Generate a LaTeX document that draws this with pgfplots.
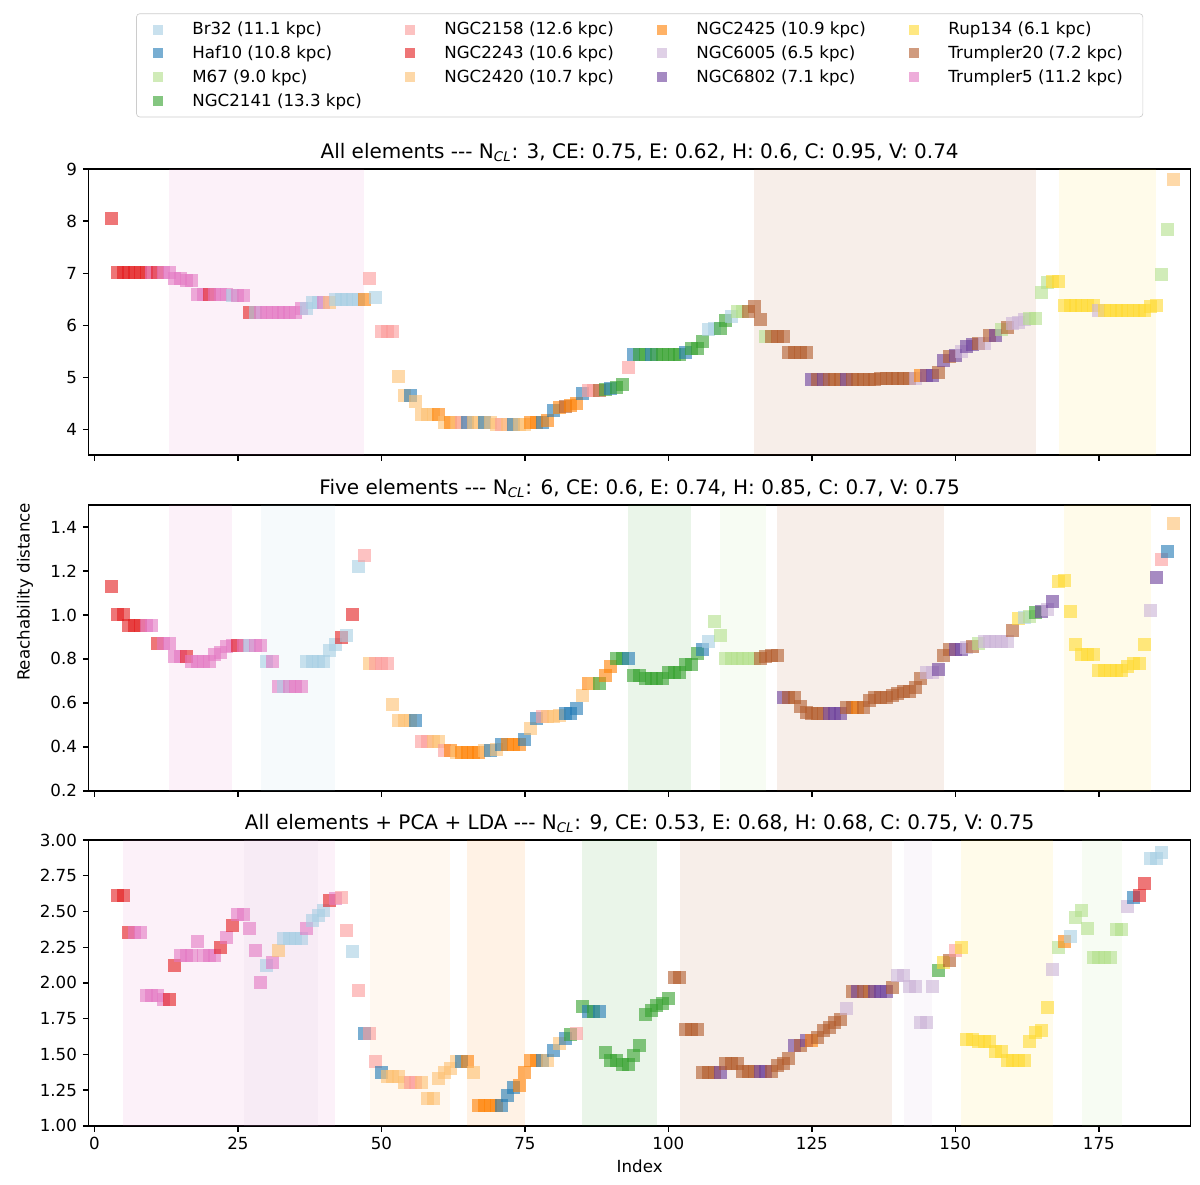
\documentclass[border=0pt]{standalone}
\usepackage{pgfplots}
\usepackage{pgfplotstable}
\usepackage{fontspec}
\setmainfont{DejaVu Sans}
\pgfplotsset{compat=1.18}
\definecolor{cB}{HTML}{A6CEE3}
\definecolor{cH}{HTML}{1F78B4}
\definecolor{cM}{HTML}{B2DF8A}
\definecolor{cG}{HTML}{33A02C}
\definecolor{cP}{HTML}{FB9A99}
\definecolor{cR}{HTML}{E31A1C}
\definecolor{cL}{HTML}{FDBF6F}
\definecolor{cO}{HTML}{FF7F00}
\definecolor{cV}{HTML}{CAB2D6}
\definecolor{cD}{HTML}{6A3D9A}
\definecolor{cY}{HTML}{FFD92F}
\definecolor{cT}{HTML}{B15928}
\definecolor{cK}{HTML}{E377C2}

\pgfplotstableread{
x y c
3 8.06 R
4 7.02 R
5 7.02 R
6 7.02 R
7 7.02 R
8 7.02 R
9 7.02 R
10 7.02 K
11 7.02 R
12 7.02 K
13 7.02 K
14 6.91 K
15 6.91 K
16 6.86 K
17 6.86 K
18 6.60 K
19 6.60 K
20 6.60 R
21 6.60 K
22 6.60 K
23 6.60 K
24 6.58 B
25 6.58 K
26 6.58 K
27 6.25 R
28 6.25 B
29 6.25 K
30 6.25 K
31 6.25 K
32 6.25 K
33 6.25 K
34 6.25 K
35 6.25 K
36 6.32 K
37 6.32 B
38 6.44 B
39 6.44 B
40 6.44 K
41 6.44 L
42 6.50 B
43 6.50 B
44 6.50 B
45 6.50 B
46 6.50 B
47 6.50 O
48 6.91 P
49 6.54 B
50 5.89 P
51 5.89 P
52 5.89 P
53 5.02 L
54 4.66 L
55 4.66 H
56 4.55 L
57 4.29 L
58 4.29 L
59 4.29 L
60 4.29 O
61 4.14 L
62 4.14 O
63 4.14 L
64 4.14 P
65 4.14 H
66 4.14 L
67 4.14 L
68 4.14 H
69 4.14 L
70 4.11 L
71 4.11 P
72 4.11 L
73 4.11 H
74 4.11 L
75 4.11 L
76 4.14 O
77 4.14 O
78 4.14 H
79 4.17 O
80 4.37 H
81 4.43 O
82 4.44 T
83 4.47 O
84 4.50 O
85 4.69 H
86 4.75 P
87 4.75 P
88 4.76 T
89 4.78 G
90 4.80 H
91 4.82 G
92 4.87 G
93 5.20 P
94 5.45 H
95 5.45 G
96 5.45 G
97 5.45 H
98 5.45 G
99 5.45 G
100 5.45 G
101 5.45 G
102 5.45 G
103 5.49 H
104 5.55 G
105 5.55 G
106 5.70 G
107 5.92 B
108 5.94 B
109 5.94 G
110 6.09 G
111 6.17 B
112 6.26 M
113 6.26 M
114 6.26 T
115 6.36 T
116 6.12 T
117 5.78 M
118 5.78 T
119 5.78 T
120 5.78 T
121 5.48 T
122 5.48 T
123 5.48 T
124 5.48 T
125 4.97 D
126 4.97 T
127 4.97 D
128 4.97 T
129 4.97 T
130 4.97 T
131 4.97 D
132 4.97 T
133 4.97 T
134 4.97 T
135 4.97 T
136 4.97 T
137 4.98 T
138 4.98 T
139 4.98 T
140 4.98 T
141 4.98 T
142 4.98 T
143 4.98 V
144 5.04 O
145 5.04 D
146 5.04 D
147 5.09 T
148 5.33 D
149 5.40 T
150 5.43 D
151 5.51 V
152 5.60 D
153 5.64 D
154 5.65 T
155 5.65 V
156 5.81 T
157 5.81 D
158 5.92 M
159 5.97 T
160 6.04 V
161 6.05 V
162 6.12 V
163 6.14 M
164 6.14 M
165 6.63 M
166 6.83 M
167 6.84 Y
168 6.84 Y
169 6.39 Y
170 6.39 Y
171 6.39 Y
172 6.39 Y
173 6.39 Y
174 6.39 Y
175 6.28 V
176 6.28 Y
177 6.28 Y
178 6.28 Y
179 6.28 Y
180 6.28 Y
181 6.28 Y
182 6.28 Y
183 6.28 Y
184 6.37 Y
185 6.39 Y
186 6.97 M
187 7.84 M
188 8.79 L
}\tA

\pgfplotstableread{
x y c
3 1.13 R
4 1.00 R
5 1.00 R
6 0.95 R
7 0.95 R
8 0.95 R
9 0.95 K
10 0.95 K
11 0.87 R
12 0.87 K
13 0.87 K
14 0.81 K
15 0.81 K
16 0.81 R
17 0.786 K
18 0.786 K
19 0.786 K
20 0.786 K
21 0.82 K
22 0.83 K
23 0.855 K
24 0.86 K
25 0.86 R
26 0.86 K
27 0.86 B
28 0.86 K
29 0.86 K
30 0.786 B
31 0.786 K
32 0.673 K
33 0.673 B
34 0.673 K
35 0.673 K
36 0.673 K
37 0.786 B
38 0.786 B
39 0.79 B
40 0.79 B
41 0.84 B
42 0.867 B
43 0.897 R
44 0.905 B
45 1.00 R
46 1.22 B
47 1.27 P
48 0.78 L
49 0.78 P
50 0.78 P
51 0.78 P
52 0.594 L
53 0.52 L
54 0.52 L
55 0.52 L
56 0.52 H
57 0.423 P
58 0.423 P
59 0.423 L
60 0.423 L
61 0.385 P
62 0.385 O
63 0.375 L
64 0.375 O
65 0.375 O
66 0.375 O
67 0.375 O
68 0.385 L
69 0.385 H
70 0.387 L
71 0.41 H
72 0.41 O
73 0.41 O
74 0.41 O
75 0.433 H
76 0.482 L
77 0.53 H
78 0.537 P
79 0.537 L
80 0.54 L
81 0.543 L
82 0.55 H
83 0.55 H
84 0.575 H
85 0.635 L
86 0.688 O
87 0.688 L
88 0.688 G
89 0.726 O
90 0.764 O
91 0.80 G
92 0.80 G
93 0.80 H
94 0.726 G
95 0.726 G
96 0.71 G
97 0.71 G
98 0.71 G
99 0.71 G
100 0.736 G
101 0.736 G
102 0.736 G
103 0.776 G
104 0.776 G
105 0.824 G
106 0.842 H
107 0.88 B
108 0.968 M
109 0.908 M
110 0.80 M
111 0.80 M
112 0.80 M
113 0.80 M
114 0.80 M
115 0.80 M
116 0.80 T
117 0.81 T
118 0.817 T
119 0.817 T
120 0.624 D
121 0.624 T
122 0.624 T
123 0.585 T
124 0.555 T
125 0.552 T
126 0.552 T
127 0.552 T
128 0.552 D
129 0.552 D
130 0.552 D
131 0.579 T
132 0.579 T
133 0.579 O
134 0.579 T
135 0.612 T
136 0.624 T
137 0.624 T
138 0.624 T
139 0.632 T
140 0.642 T
141 0.65 T
142 0.65 T
143 0.67 T
144 0.71 T
145 0.736 V
146 0.736 V
147 0.752 D
148 0.817 T
149 0.844 T
150 0.844 D
151 0.844 D
152 0.85 V
153 0.855 T
154 0.87 M
155 0.88 V
156 0.88 V
157 0.88 V
158 0.88 V
159 0.88 V
160 0.93 T
161 0.983 Y
162 0.988 B
163 0.995 M
164 1.01 G
165 1.014 D
166 1.025 V
167 1.06 D
168 1.15 Y
169 1.155 Y
170 1.016 Y
171 0.865 Y
172 0.82 Y
173 0.82 Y
174 0.82 Y
175 0.749 Y
176 0.749 Y
177 0.749 Y
178 0.749 Y
179 0.749 Y
180 0.764 Y
181 0.779 Y
182 0.779 Y
183 0.865 Y
184 1.02 V
185 1.168 D
186 1.25 P
187 1.29 H
188 1.418 L
}\tB

\pgfplotstableread{
x y c
4 2.61 R
5 2.61 R
6 2.355 R
7 2.355 K
8 2.355 K
9 1.91 K
10 1.91 K
11 1.91 K
12 1.885 K
13 1.885 R
14 2.12 R
15 2.194 K
16 2.194 K
17 2.194 K
18 2.29 K
19 2.19 K
20 2.19 K
21 2.19 K
22 2.245 R
23 2.32 K
24 2.40 R
25 2.48 K
26 2.48 K
27 2.38 K
28 2.23 K
29 2.00 K
30 2.12 B
31 2.145 K
32 2.23 L
33 2.31 B
34 2.31 B
35 2.31 B
36 2.31 B
37 2.38 K
38 2.44 B
39 2.47 B
40 2.505 B
41 2.575 R
42 2.59 K
43 2.60 P
44 2.37 P
45 2.22 B
46 1.95 P
47 1.645 H
48 1.645 P
49 1.45 P
50 1.373 H
51 1.343 L
52 1.343 L
53 1.343 L
54 1.303 L
55 1.303 P
56 1.303 P
57 1.303 L
58 1.194 L
59 1.194 L
60 1.33 L
61 1.373 L
62 1.40 L
63 1.45 L
64 1.45 H
65 1.45 O
66 1.373 L
67 1.145 O
68 1.145 O
69 1.145 O
70 1.145 O
71 1.145 H
72 1.21 H
73 1.27 H
74 1.28 O
75 1.37 O
76 1.455 O
77 1.455 O
78 1.455 H
79 1.455 L
80 1.525 H
81 1.575 L
82 1.613 H
83 1.64 G
84 1.645 P
85 1.838 G
86 1.80 H
87 1.80 G
88 1.80 H
89 1.51 G
90 1.46 G
91 1.46 G
92 1.43 G
93 1.43 G
94 1.49 G
95 1.565 G
96 1.78 G
97 1.81 G
98 1.84 G
99 1.855 G
100 1.89 G
101 2.04 T
102 2.04 T
103 1.676 T
104 1.676 T
105 1.676 T
106 1.37 T
107 1.37 T
108 1.37 T
109 1.37 D
110 1.436 T
111 1.436 T
112 1.436 T
113 1.378 T
114 1.378 T
115 1.378 T
116 1.378 D
117 1.378 D
118 1.378 T
119 1.42 T
120 1.436 T
121 1.47 T
122 1.56 D
123 1.56 T
124 1.594 D
125 1.60 O
126 1.617 T
127 1.664 T
128 1.69 T
129 1.72 T
130 1.745 T
131 1.82 V
132 1.938 T
133 1.938 D
134 1.938 T
135 1.938 T
136 1.938 D
137 1.938 D
138 1.938 D
139 1.97 T
140 2.05 V
141 2.05 V
142 1.975 V
143 1.975 V
144 1.72 V
145 1.72 V
146 1.975 V
147 2.087 G
148 2.145 Y
149 2.16 T
150 2.226 P
151 2.245 Y
152 1.606 Y
153 1.606 Y
154 1.59 Y
155 1.59 Y
156 1.59 Y
157 1.52 Y
158 1.52 Y
159 1.455 Y
160 1.455 Y
161 1.455 Y
162 1.455 Y
163 1.59 Y
164 1.65 Y
165 1.67 Y
166 1.83 Y
167 2.094 V
168 2.25 M
169 2.287 O
170 2.325 B
171 2.455 M
172 2.51 M
173 2.38 M
174 2.18 M
175 2.18 M
176 2.18 M
177 2.18 M
178 2.373 M
179 2.373 M
180 2.536 V
181 2.60 H
182 2.61 R
183 2.695 R
184 2.87 B
185 2.87 B
186 2.91 B
}\tC

\tikzset{cls/.style={fill=#1, draw=#1, fill opacity=0.6, draw opacity=0, rounded corners=1.5pt}}
\pgfplotsset{
  limg/.style={only marks, mark=square*, mark size=3pt, mark options={fill=#1, draw=#1, fill opacity=0.6, draw opacity=0, rounded corners=1.2pt}},
  span/.style={fill=#1, fill opacity=0.1, draw=none, forget plot},
  panel/.style={
    scale only axis, width=661.2pt, height=171.5pt,
    anchor=north west,
    xmin=-1, xmax=191,
    xtick={0,25,...,175},
    tick pos=left, tick align=outside,
    major tick length=3.5pt,
    every tick/.style={black, line width=0.8pt},
    axis line style={line width=0.8pt},
    /pgf/number format/assume math mode=true,
    title style={font=\fontsize{12}{14}\selectfont, yshift=-5pt},
    tick label style={font=\fontsize{10}{12}\selectfont},
    label style={font=\fontsize{10}{12}\selectfont},
  },
  pts/.style={
    scatter, only marks, mark=square*, mark size=3.9pt,
    scatter src=explicit symbolic,
    scatter/classes={
      B={cls=cB}, H={cls=cH}, M={cls=cM}, G={cls=cG}, P={cls=cP},
      R={cls=cR}, L={cls=cL}, O={cls=cO}, V={cls=cV}, D={cls=cD},
      Y={cls=cY}, T={cls=cT}, K={cls=cK}},
    forget plot
  },
}

\begin{document}
\begin{tikzpicture}
\useasboundingbox (0,0) rectangle (720pt,-711pt);

% ---------- Panel 1 ----------
\begin{axis}[panel,
  at={(53.2pt,-101.4pt)},
  ymin=3.52, ymax=9, ytick={4,5,6,7,8,9},
  xticklabels={},
  title={All elements -{}-{}- N\textsubscript{\itshape CL}: 3, CE: 0.75, E: 0.62, H: 0.6, C: 0.95, V: 0.74},
  legend columns=4,
  legend cell align=left,
  legend style={at={(0.5,1)}, anchor=south, yshift=31pt,
    draw=black!20, rounded corners=2pt,
    font=\fontsize{10}{12}\selectfont,
    inner xsep=10pt, inner ysep=3pt,
    row sep=1.2pt,
    /tikz/every even column/.append style={column sep=24pt},
    /tikz/every odd column/.append style={column sep=15.5pt}},
]
\addplot[span=cK] coordinates {(13,3.52) (47,3.52) (47,9) (13,9)} -- cycle;
\addplot[span=cT] coordinates {(115,3.52) (164,3.52) (164,9) (115,9)} -- cycle;
\addplot[span=cY] coordinates {(168,3.52) (185,3.52) (185,9) (168,9)} -- cycle;
\addplot[pts] table[x=x, y=y, meta=c] {\tA};
\addlegendimage{limg=cB}\addlegendentry{Br32 (11.1 kpc)}
\addlegendimage{limg=cP}\addlegendentry{NGC2158 (12.6 kpc)}
\addlegendimage{limg=cO}\addlegendentry{NGC2425 (10.9 kpc)}
\addlegendimage{limg=cY}\addlegendentry{Rup134 (6.1 kpc)}
\addlegendimage{limg=cH}\addlegendentry{Haf10 (10.8 kpc)}
\addlegendimage{limg=cR}\addlegendentry{NGC2243 (10.6 kpc)}
\addlegendimage{limg=cV}\addlegendentry{NGC6005 (6.5 kpc)}
\addlegendimage{limg=cT}\addlegendentry{Trumpler20 (7.2 kpc)}
\addlegendimage{limg=cM}\addlegendentry{M67 (9.0 kpc)}
\addlegendimage{limg=cL}\addlegendentry{NGC2420 (10.7 kpc)}
\addlegendimage{limg=cD}\addlegendentry{NGC6802 (7.1 kpc)}
\addlegendimage{limg=cK}\addlegendentry{Trumpler5 (11.2 kpc)}
\addlegendimage{limg=cG}\addlegendentry{NGC2141 (13.3 kpc)}
\end{axis}

% ---------- Panel 2 ----------
\begin{axis}[panel,
  at={(53.2pt,-303pt)},
  ymin=0.2, ymax=1.5, ytick={0.2,0.4,0.6,0.8,1.0,1.2,1.4},
  yticklabel style={/pgf/number format/fixed, /pgf/number format/fixed zerofill, /pgf/number format/precision=1},
  xticklabels={},
  title={Five elements -{}-{}- N\textsubscript{\itshape CL}: 6, CE: 0.6, E: 0.74, H: 0.85, C: 0.7, V: 0.75},
  ylabel={Reachability distance},
  ylabel style={at={(axis description cs:-0.0578,0.696)}, anchor=center},
]
\addplot[span=cK] coordinates {(13,0.2) (24,0.2) (24,1.5) (13,1.5)} -- cycle;
\addplot[span=cB] coordinates {(29,0.2) (42,0.2) (42,1.5) (29,1.5)} -- cycle;
\addplot[span=cG] coordinates {(93,0.2) (104,0.2) (104,1.5) (93,1.5)} -- cycle;
\addplot[span=cM] coordinates {(109,0.2) (117,0.2) (117,1.5) (109,1.5)} -- cycle;
\addplot[span=cT] coordinates {(119,0.2) (148,0.2) (148,1.5) (119,1.5)} -- cycle;
\addplot[span=cY] coordinates {(169,0.2) (184,0.2) (184,1.5) (169,1.5)} -- cycle;
\addplot[pts] table[x=x, y=y, meta=c] {\tB};
\end{axis}

% ---------- Panel 3 ----------
\begin{axis}[panel,
  at={(53.2pt,-504pt)},
  ymin=1, ymax=3, ytick={1,1.25,...,3},
  yticklabel style={/pgf/number format/fixed, /pgf/number format/fixed zerofill, /pgf/number format/precision=2},
  title={All elements + PCA + LDA -{}-{}- N\textsubscript{\itshape CL}: 9, CE: 0.53, E: 0.68, H: 0.68, C: 0.75, V: 0.75},
  xlabel={Index},
  xlabel style={at={(axis description cs:0.5,-0.143)}, anchor=center},
]
\addplot[span=cK] coordinates {(5,1) (42,1) (42,3) (5,3)} -- cycle;
\addplot[span=cV] coordinates {(26,1) (39,1) (39,3) (26,3)} -- cycle;
\addplot[span=cL] coordinates {(48,1) (62,1) (62,3) (48,3)} -- cycle;
\addplot[span=cO] coordinates {(65,1) (75,1) (75,3) (65,3)} -- cycle;
\addplot[span=cG] coordinates {(85,1) (98,1) (98,3) (85,3)} -- cycle;
\addplot[span=cT] coordinates {(102,1) (139,1) (139,3) (102,3)} -- cycle;
\addplot[span=cV] coordinates {(141,1) (146,1) (146,3) (141,3)} -- cycle;
\addplot[span=cY] coordinates {(151,1) (167,1) (167,3) (151,3)} -- cycle;
\addplot[span=cM] coordinates {(172,1) (179,1) (179,3) (172,3)} -- cycle;
\addplot[pts] table[x=x, y=y, meta=c] {\tC};
\end{axis}
\end{tikzpicture}
\end{document}
